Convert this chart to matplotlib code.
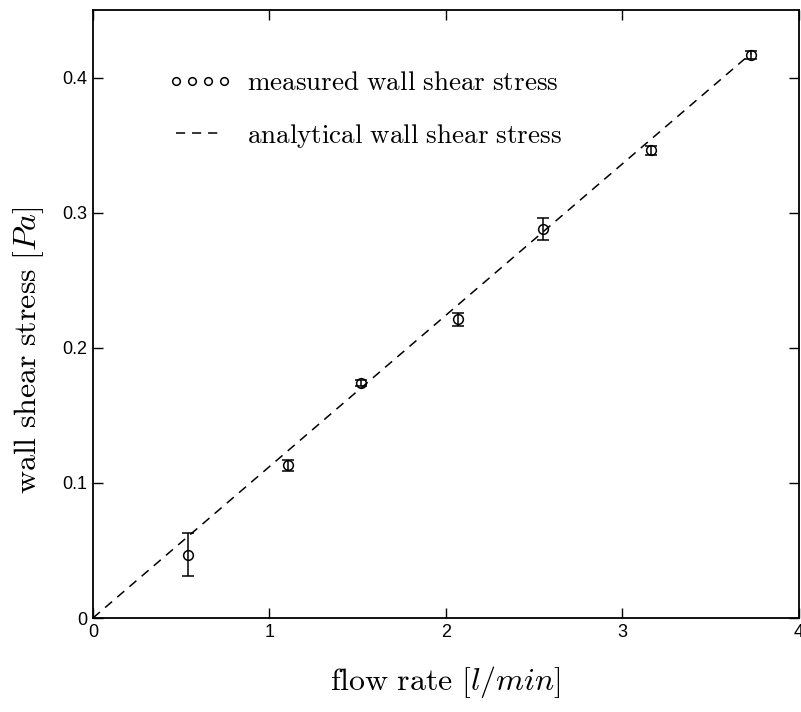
import matplotlib.pyplot as plt
from matplotlib.lines import Line2D

flow = [0.54, 1.105, 1.52, 2.07, 2.55, 3.16, 3.73]
stress = [0.047, 0.113, 0.174, 0.221, 0.288, 0.346, 0.417]
stress_err = [0.016, 0.004, 0.002, 0.005, 0.008, 0.003, 0.003]

# analytical line
flow_an = [0.0, 3.73]
stress_an = [0.0, 0.418]

xticks = [0, 1, 2, 3, 4]
yticks = [0, 0.1, 0.2, 0.3, 0.4]

plt.rcParams['mathtext.fontset'] = 'cm'
plt.rcParams['font.family'] = ['Liberation Sans', 'DejaVu Sans']

fig = plt.figure(figsize=(8.01, 7.12), dpi=100)
ax = fig.add_axes([0.116, 0.132, 0.8815, 0.854])

ax.plot(flow_an, stress_an, color='black', linestyle=(0, (6, 4.5)), linewidth=1.1)
ax.errorbar(flow, stress, yerr=stress_err, fmt='o', mfc='none', mec='black',
            ms=7, mew=1.1, ecolor='black', elinewidth=1.1, capsize=4.5, capthick=1.3)

ax.set_xlim(0, 4)
ax.set_ylim(0, 0.45)
ax.set_xticks(xticks)
ax.set_xticklabels(['0', '1', '2', '3', '4'])
ax.set_yticks(yticks)
ax.set_yticklabels(['0', '0.1', '0.2', '0.3', '0.4'])
ax.tick_params(direction='in', length=7, width=1, top=True, right=True,
               labelsize=13, pad=4)
for s in ax.spines.values():
    s.set_linewidth(1.3)

ax.set_xlabel(r'$\mathrm{flow\ rate}\ [l/min]$', fontsize=23, labelpad=17)
ax.set_ylabel(r'$\mathrm{wall\ shear\ stress}\ [Pa]$', fontsize=23)
ax.yaxis.set_label_coords(-0.066, 0.44)

handles = [
    Line2D([], [], linestyle='none', marker='o', mfc='none', mec='black', ms=5.5, mew=1.1),
    Line2D([], [], color='black', linestyle=(0, (6, 4.5)), linewidth=1.1),
]
leg = ax.legend(handles, [r'$\mathrm{measured\ wall\ shear\ stress}$',
                          r'$\mathrm{analytical\ wall\ shear\ stress}$'],
                loc='upper left', bbox_to_anchor=(0.071, 0.941), frameon=False,
                numpoints=4, handlelength=2.4, handletextpad=0.55,
                labelspacing=0.95, fontsize=19.5)

fig.savefig('out.png', dpi=100)
